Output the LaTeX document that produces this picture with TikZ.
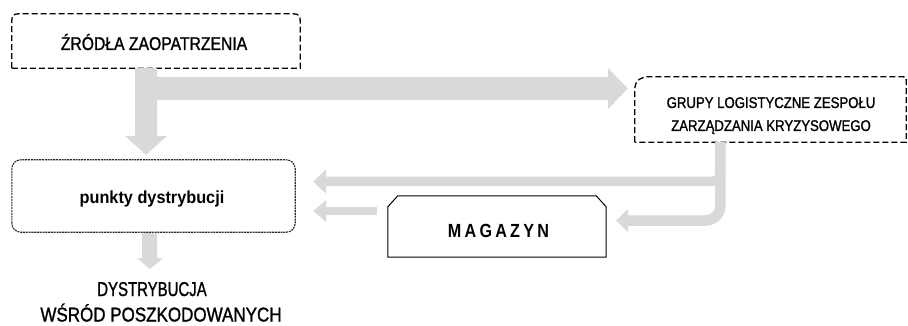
\documentclass[tikz,border=0pt]{standalone}
\usepackage{fontspec}
\setmainfont{Liberation Sans}
\newfontfamily\fn{Liberation Sans}[FakeStretch=0.85,FakeBold=1.2]
\newfontfamily\fd{Liberation Sans}[FakeStretch=0.8,LetterSpace=23,FakeBold=1.2]
\newfontfamily\fm{Liberation Sans}[FakeStretch=0.85,LetterSpace=17]
\newfontfamily\fp{Liberation Sans}[FakeStretch=0.93]
\usetikzlibrary{calc}
\definecolor{arrowgray}{HTML}{D9D9D9}
\begin{document}
\begin{tikzpicture}[x=1pt,y=-1pt,
  frame/.style={draw=none,inner sep=0pt},
  txt/.style={inner sep=0pt,anchor=base},
  dashbox/.style={draw=black,line width=1.3pt,dash pattern=on 6pt off 3pt},
  finebox/.style={draw=black!85,line width=1.1pt,dash pattern=on 2pt off 0.8pt},
  solidbox/.style={draw=black,line width=1pt},
  gfill/.style={fill=arrowgray,draw=none},
  gline/.style={draw=arrowgray}]
\useasboundingbox (0,0) rectangle (908,326);
% frames
\node[frame,minimum width=288pt,minimum height=54pt] (a) at (156,41) {};
\node[frame,minimum width=271pt,minimum height=65pt] (b) at (770.5,109.5) {};
\node[frame,minimum width=283pt,minimum height=72pt] (c) at (153.5,196) {};
\node[frame,minimum width=218pt,minimum height=61pt] (d) at (497,226.5) {};
% outlines
\draw[dashbox] (a.south west) -- ([yshift=-11pt]a.north west) .. controls (a.north west) .. ([xshift=11pt]a.north west)
  -- ([xshift=-11pt]a.north east) .. controls (a.north east) .. ([yshift=-11pt]a.north east) -- (a.south east) -- cycle;
\draw[dashbox] (b.south west) -- ([yshift=-11pt]b.north west) .. controls ([xshift=2pt,yshift=-3pt]b.north west) .. ([xshift=11pt]b.north west)
  -- ([xshift=-5pt]b.north east) .. controls (b.north east) .. ([yshift=-5pt]b.north east) -- (b.south east) -- cycle;
\draw[finebox,rounded corners=9pt] (c.south west) rectangle (c.north east);
\draw[solidbox] (d.south west) -- ([yshift=-11pt]d.north west) -- ([xshift=10pt]d.north west)
  -- ([xshift=-10pt]d.north east) -- ([yshift=-11pt]d.north east) -- (d.south east) -- cycle;
% texts
\node[txt,font=\fn\fontsize{18.5}{22}\selectfont] (ta) at (154,50) {ŹRÓDŁA ZAOPATRZENIA};
\node[txt,font=\fn\fontsize{15.5}{20}\selectfont] (tb1) at (771,108) {GRUPY LOGISTYCZNE ZESPOŁU};
\node[txt,font=\fn\fontsize{15.5}{20}\selectfont] (tb2) at (771,131) {ZARZĄDZANIA KRYZYSOWEGO};
\node[txt,font=\fp\bfseries\fontsize{17.5}{20}\selectfont] (tc) at (152,204) {punkty dystrybucji};
\node[txt,font=\fm\bfseries\fontsize{19}{22}\selectfont] (td) at (498.5,237) {MAGAZYN};
\node[txt,font=\fd\fontsize{17}{20}\selectfont] (tdob) at (376.5,95) {DOBRA ZAOPATRZENIOWE};
\node[txt,font=\fn\fontsize{20}{24}\selectfont] (tx1) at (152,296) {\scalebox{0.88}[1]{DYSTRYBUCJA}};
\node[txt,font=\fn\fontsize{20}{24}\selectfont] (tx2) at (161,321.5) {WŚRÓD POSZKODOWANYCH};
% connector coordinates
\coordinate (a1) at ($(a.south)+(-10,0)$);
\coordinate (tipb) at ($(b.west)+(-7,-21)$);
\coordinate (tipc) at ($(c.north)+(-7.5,-5)$);
\coordinate (b1) at ($(b.south west)+(85.5,0)$);
\coordinate (tc1) at ($(c.east)+(18,-14.5)$);
\coordinate (tdd) at ($(d.east)+(10,-6)$);
\coordinate (d0) at ($(d.west)+(-11,-15.5)$);
\coordinate (tc2) at ($(c.east)+(18,15)$);
\coordinate (c0) at ($(c.south)+(-4,1)$);
\coordinate (tx) at ($(c.south)+(-3.5,37)$);
% main arrow a -> b and a -> c
\fill[gfill] ($(a1)+(-11,0)$) -- ++(22,0) -- (157,77) -- (608,77) -- (608,68) -- (tipb) -- (608,109) -- (608,100)
  -- (157,100) -- (157,136) -- (167,136) -- (tipc) -- (125,136) -- (135,136) -- cycle;
% b -> c
\draw[gline,line width=9.5pt,rounded corners=9pt] (b1) -- (720.5,181.5) -- (325,181.5);
\fill[gfill] (326,169.5) -- (tc1) -- (326,193.5) -- cycle;
% b -> d
\draw[gline,line width=10.5pt,rounded corners=15pt] (b1) -- (720.5,220.5) -- (627,220.5);
\fill[gfill] (628,209) -- (tdd) -- (628,232) -- cycle;
% d -> c
\draw[gline,line width=8.5pt] (d0) -- (325,211);
\fill[gfill] (326,200) -- (tc2) -- (326,222) -- cycle;
% c -> text
\fill[gfill] ($(c0)+(-7.5,0)$) -- ++(15,0) -- (157,258) -- (163,258) -- (tx) -- (137,258) -- (142,258) -- cycle;
\end{tikzpicture}
\end{document}
